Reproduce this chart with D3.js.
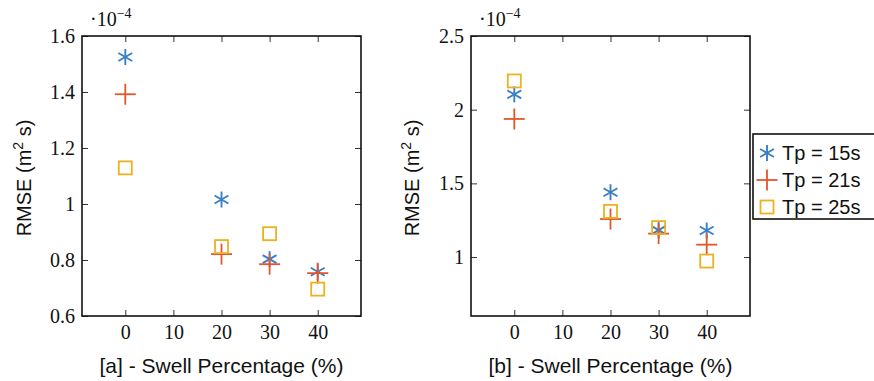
<!DOCTYPE html>
<html>
<head>
<meta charset="utf-8">
<script src="https://cdn.jsdelivr.net/npm/d3@7"></script>
<style>
  body { margin: 0; background: #fff; }
</style>
</head>
<body>
<div class="chart"></div>
<script>
// chart data (RMSE in units of 1e-4 m^2 s)
var swell = [0, 20, 30, 40];
var xTicks = [0, 10, 20, 30, 40];
var seriesNames = ["Tp = 15s", "Tp = 21s", "Tp = 25s"];

var rmseA15 = [1.525, 1.016, 0.803, 0.758];
var rmseA21 = [1.392, 0.821, 0.785, 0.753];
var rmseA25 = [1.129, 0.848, 0.894, 0.696];

var rmseB15 = [2.104, 1.44, 1.183, 1.18];
var rmseB21 = [1.937, 1.258, 1.159, 1.084];
var rmseB25 = [2.195, 1.31, 1.2, 0.973];

var yTicksA = [0.6, 0.8, 1, 1.2, 1.4, 1.6];
var yTicksB = [1, 1.5, 2, 2.5];

var colors = ["#3a7fc6", "#e3562b", "#edb120"];

var serif = "Liberation Serif";
var sans = "Liberation Sans";

var svgWidth = 874;
var svgHeight = 381;

var svg = d3.select(".chart")
  .append("svg")
  .attr("width", svgWidth)
  .attr("height", svgHeight);

var panels = [
  { left: 82, top: 36, width: 279, height: 280, yDomain: [0.6, 1.6], yTicks: yTicksA,
    series: [rmseA15, rmseA21, rmseA25], label: "[a] - Swell Percentage (%)", yLabelX: 31 },
  { left: 471, top: 36, width: 279, height: 280, yDomain: [0.6, 2.5], yTicks: yTicksB,
    series: [rmseB15, rmseB21, rmseB25], label: "[b] - Swell Percentage (%)", yLabelX: 419 }
];

var fmt = function(d) { return String(+d.toFixed(1)); };

// marker shapes
function drawMarker(g, kind, color) {
  if (kind === 0) {
    // six-armed asterisk
    var r = 8;
    [90, 30, 150].forEach(function(a) {
      var rad = a * Math.PI / 180;
      g.append("line")
        .attr("x1", -r * Math.cos(rad)).attr("y1", -r * Math.sin(rad))
        .attr("x2", r * Math.cos(rad)).attr("y2", r * Math.sin(rad))
        .attr("stroke", color).attr("stroke-width", 1.9);
    });
  } else if (kind === 1) {
    var p = 10.5;
    g.append("line").attr("x1", -p).attr("y1", 0).attr("x2", p).attr("y2", 0)
      .attr("stroke", color).attr("stroke-width", 1.8);
    g.append("line").attr("x1", 0).attr("y1", -p).attr("x2", 0).attr("y2", p)
      .attr("stroke", color).attr("stroke-width", 1.8);
  } else {
    var s = 6.5;
    g.append("rect").attr("x", -s).attr("y", -s).attr("width", 2 * s).attr("height", 2 * s)
      .attr("fill", "none").attr("stroke", color).attr("stroke-width", 1.8);
  }
}

panels.forEach(function(p) {
  var chart = svg.append("g")
    .attr("transform", "translate(" + p.left + "," + p.top + ")");

  var x = d3.scaleLinear().domain([-9, 49]).range([0, p.width]);
  var y = d3.scaleLinear().domain(p.yDomain).range([p.height, 0]);

  // bottom and left axes (ticks pointing inward)
  chart.append("g")
    .attr("transform", "translate(0," + p.height + ")")
    .call(d3.axisBottom(x).tickValues(xTicks).tickSizeInner(-6).tickSizeOuter(0).tickPadding(9).tickFormat(d3.format("d")));
  chart.append("g")
    .call(d3.axisLeft(y).tickValues(p.yTicks).tickSizeInner(-6).tickSizeOuter(0).tickPadding(7).tickFormat(fmt));
  // mirrored ticks on top and right
  chart.append("g")
    .call(d3.axisTop(x).tickValues(xTicks).tickSizeInner(-6).tickSizeOuter(0).tickFormat(""));
  chart.append("g")
    .attr("transform", "translate(" + p.width + ",0)")
    .call(d3.axisRight(y).tickValues(p.yTicks).tickSizeInner(-6).tickSizeOuter(0).tickFormat(""));

  chart.selectAll(".domain").remove();
  chart.selectAll(".tick line").attr("stroke", "#333").attr("stroke-width", 1);
  chart.selectAll(".tick text")
    .style("font-family", serif).style("font-size", "20px").attr("fill", "#111");

  chart.append("rect")
    .attr("width", p.width).attr("height", p.height)
    .attr("fill", "none").attr("stroke", "#111").attr("stroke-width", 1.6);

  // exponent
  var ex = chart.append("text")
    .attr("x", 8).attr("y", -10)
    .style("font-family", serif).style("font-size", "20px").attr("fill", "#111");
  ex.append("tspan").text("\u00b710");
  ex.append("tspan").attr("dy", -8).style("font-size", "14px").text("\u22124");

  // markers
  p.series.forEach(function(vals, si) {
    vals.forEach(function(v, i) {
      var g = chart.append("g")
        .attr("transform", "translate(" + x(swell[i]) + "," + y(v) + ")");
      drawMarker(g, si, colors[si]);
    });
  });

  // axis labels
  chart.append("text")
    .attr("x", x(20)).attr("y", p.height + 57)
    .attr("text-anchor", "middle")
    .style("font-family", sans).style("font-size", "21px").attr("fill", "#111")
    .text(p.label);

  var yl = svg.append("text")
    .attr("transform", "translate(" + p.yLabelX + "," + (p.top + p.height / 2 + 2) + ") rotate(-90)")
    .attr("text-anchor", "middle")
    .style("font-family", sans).style("font-size", "20px").attr("fill", "#111");
  yl.append("tspan").text("RMSE (m");
  yl.append("tspan").attr("dy", -8).style("font-size", "14px").text("2");
  yl.append("tspan").attr("dy", 8).text(" s)");
});

// legend
var legend = svg.append("g")
  .attr("transform", "translate(753,134)");
legend.append("rect")
  .attr("width", 130).attr("height", 85)
  .attr("fill", "#fff").attr("stroke", "#111").attr("stroke-width", 1.6);
seriesNames.forEach(function(name, i) {
  var row = legend.append("g").attr("transform", "translate(14," + (19 + i * 27) + ")");
  drawMarker(row.append("g"), i, colors[i]);
  row.append("text").attr("x", 15).attr("y", 7)
    .style("font-family", sans).style("font-size", "20px").attr("fill", "#111")
    .text(name);
});
</script>
</body>
</html>
